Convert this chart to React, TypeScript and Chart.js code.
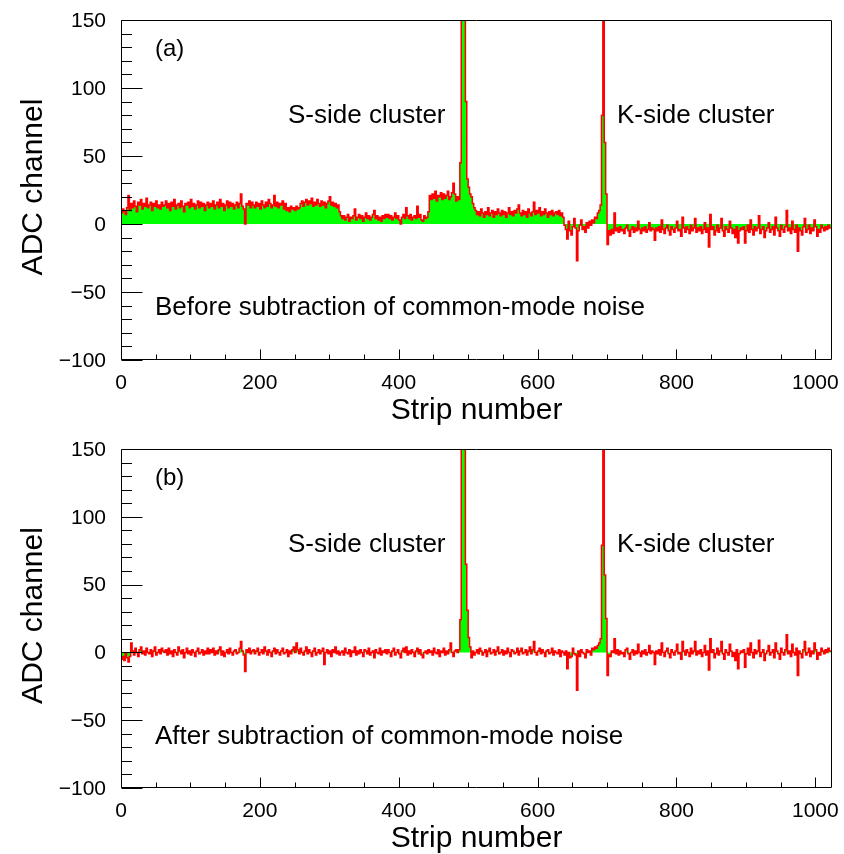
import React, { useEffect, useRef } from 'react';
import { Chart, registerables } from 'chart.js';

Chart.register(...registerables);

// ---- axes ----
const BIN_WIDTH = 2; // strips per bin
const X_MIN = 0;
const X_MAX = 1024;
const Y_MIN = -100;
const Y_MAX = 150;
const X_TICKS = [0, 200, 400, 600, 800, 1000];
const Y_TICKS = [-100, -50, 0, 50, 100, 150];
const X_MINOR_STEP = 50;
const Y_MINOR_STEP = 10;
const X_TITLE = 'Strip number';
const Y_TITLE = 'ADC channel';
const PEAK_LABELS = ['S-side cluster', 'K-side cluster'];

// ---- (a) before common-mode subtraction: ADC value per 2-strip bin ----
const ADC_BEFORE = [
  10, 8, 11, 9, 7, 12, 21, 10, 15, 12, 17, 13, 9, 16, 14, 18, 11, 15, 13, 19, 12, 14, 16, 10, 15, 13, 17, 12, 14, 11, 16, 13,
  14, 17, 12, 15, 10, 16, 13, 18, 11, 14, 15, 12, 17, 13, 9, 15, 14, 16, 12, 18, 13, 15, 11, 14, 17, 12, 16, 13, 15, 10, 14, 16,
  12, 15, 13, 17, 11, 14, 16, 12, 18, 13, 15, 10, 14, 17, 12, 16, 13, 15, 11, 14, 16, 12, 15, 22, 13, 11, 0, 15, 14, 17, 12, 16,
  14, 12, 16, 13, 15, 11, 17, 14, 12, 16, 13, 18, 15, 12, 14, 21, 13, 16, 12, 15, 14, 17, 11, 15, 10, 12, 9, 13, 11, 12, 10, 13,
  11, 12, 15, 17, 13, 16, 18, 14, 17, 15, 19, 13, 16, 14, 18, 15, 13, 17, 14, 16, 12, 15, 17, 20, 14, 16, 13, 15, 12, 14, 9, 6,
  4, 6, 3, 5, 7, 2, 5, 4, 6, 11, 3, 5, 7, 4, 6, 2, 5, 8, 4, 6, 3, 5, 7, 10, 4, 6, 3, 5, 2, 6, 4, 7,
  5, 7, 4, 6, 3, 5, 8, 4, 6, 3, 0, 5, 7, 4, 12, 6, 4, 7, 3, 5, 6, 4, 13, 5, 7, 3, 2, 6, 4, 5, 9, 21,
  18, 22, 19, 24, 17, 21, 20, 23, 18, 22, 19, 21, 24, 18, 20, 23, 30, 22, 17, 20, 18, 45, 250, 400, 300, 90, 33, 27, 22, 20, 15, 12,
  10, 7, 9, 6, 11, 8, 5, 9, 7, 12, 6, 8, 10, 5, 9, 7, 11, 8, 6, 10, 7, 9, 5, 8, 12, 7, 9, 6, 10, 8, 11, 14,
  8, 6, 10, 7, 9, 5, 11, 8, 6, 9, 16, 7, 10, 8, 12, 6, 9, 7, 11, 8, 5, 9, 7, 10, 6, 8, 9, 7, 10, 6, 8, 5,
  -1, -4, -11, 2, -5, -8, -2, 4, -3, -27, -5, -1, 3, -4, -2, -6, 1, -3, 2, -1, 3, 1, 5, 4, 8, 10, 14, 80, 400, 60, 22, -15,
  -5, -8, -4, -7, 8, -5, -3, -6, -2, -5, -4, -7, -3, -1, -5, -9, -4, -2, -6, -3, -5, 2, -4, -7, -3, -5, -2, -6, -4, 1, -5, -3,
  -4, -12, -3, -5, -2, -6, 3, -4, -7, -3, -1, -5, -8, -2, -4, -6, -3, 2, -5, -4, -9, 5, -3, -6, -2, -4, -7, -1, -5, -3, 4, -6,
  -3, -5, -2, -7, -4, 1, -6, -3, -17, 7, -4, -2, -8, -5, -1, -6, -3, 4, -5, -9, -2, -4, -6, 2, -3, -7, -4, -10, -2, -14, -5, -3,
  -4, -2, -14, -5, -1, -6, 3, -4, -8, -2, -5, -3, 6, -7, -4, -2, -10, -5, -3, 1, -6, -4, -2, -8, 5, -3, -5, -9, -1, -4, -6, -2,
  10, -5, -3, -7, 2, -4, -6, -1, -20, -3, -5, -8, -2, 4, -6, -4, -1, -7, -3, -5, 3, -2, -9, -4, -6, -1, -3, -5, -2, -4, -1, -3,
];

// ---- (b) after common-mode subtraction ----
const ADC_AFTER = [
  -2, -5, -3, -6, -1, -4, -7, -3, 7, 1, -2, 3, 0, -3, 2, 4, -1, 1, -2, 3, 0, -1, 2, -3, 1, 4, -2, 0, 2, -1, 3, 1,
  0, 2, -2, 3, -1, 1, -3, 2, 0, -2, 4, 1, -1, 2, -4, 0, 3, -1, 1, -2, 2, 0, -3, 1, 3, -1, 0, 2, -2, 1, -1, 3,
  -1, 2, 0, 3, -2, 1, -1, 2, 4, -2, 1, -3, 0, 2, -1, 3, 0, -2, 1, 2, -1, 0, 3, 8, 1, -2, -14, 2, 0, 3, -1, 1,
  2, -1, 1, 3, -2, 0, 2, -1, 4, 1, -2, 2, 0, -3, 1, 3, -1, 2, 0, -2, 1, 3, -1, 0, 2, -3, 1, -1, 2, 4, 0, 7,
  2, -1, 3, 0, -2, 1, 4, -1, 2, 0, -3, 1, 3, -2, 0, 2, -1, 1, 3, -9, 0, 2, -1, 1, -3, 2, 0, 4, -1, 1, -2, 0,
  1, -2, 3, 0, -1, 2, -3, 1, 0, 4, -2, 1, -1, 2, 0, -3, 2, 1, -1, 3, -2, 0, 1, -4, 2, 0, -1, 3, -2, 1, 0, 2,
  -1, 2, 0, -3, 1, 3, -2, 0, 2, -1, -4, 1, 3, 0, 4, -2, 1, -1, 2, 0, -3, 1, 3, -1, 2, -2, -4, 0, 1, -1, 2, 0,
  1, -2, 3, 0, -1, 2, -3, 1, 0, 3, -2, 1, -1, 2, 7, 0, -3, 1, 2, 0, 2, 24, 250, 400, 300, 65, 31, 11, 4, -4, 1, -2,
  0, 2, -1, 3, 1, -2, 0, 2, -3, 1, 3, -1, 0, 2, -2, 1, 4, -1, 0, 2, -2, 1, -1, 3, 0, -3, 2, 1, -1, 0, 3, -2,
  1, 3, -1, 0, 2, -2, 1, 4, -1, 2, 8, 0, -2, 1, 3, -1, 2, 0, -3, 1, 2, -1, 0, 3, -2, 1, 0, -1, 2, -3, 1, 0,
  -2, 1, -12, 0, -4, -3, 3, -1, -2, -28, 1, -3, 2, 0, -1, -4, 2, 0, 1, -2, 3, 2, 4, 3, 5, 7, 10, 79, 400, 57, 25, -17,
  -2, -3, 1, 0, 10, -1, 2, -2, 1, -1, 0, -3, 2, 3, -1, -5, 0, 2, -2, 1, -1, 6, 0, -3, 1, -1, 2, -2, 0, 5, -1, 1,
  0, -9, 1, -1, 2, -2, 7, 0, -3, 1, 3, -1, -4, 2, 0, -2, 1, 6, -1, 0, -5, 8, 1, -2, 2, 0, -3, 3, -1, 1, 8, -2,
  1, -1, 2, -3, 0, 5, -2, 1, -13, 10, 0, 2, -4, -1, 3, -2, 1, 8, -1, -5, 2, 0, -2, 6, 1, -3, 0, -6, 2, -12, -1, 1,
  0, 2, -11, -1, 3, -2, 7, 0, -4, 2, -1, 1, 9, -3, 0, 2, -6, -1, 1, 5, -2, 0, 2, -4, 7, 1, -1, -5, 3, 0, -2, 2,
  13, -1, 1, -3, 6, 0, -2, 3, -17, 1, -1, -4, 2, 8, -2, 0, 3, -3, 1, -1, 7, 2, -5, 0, -2, 3, 1, -1, 2, 0, 3, 1,
];

const FONT = '"Liberation Sans", Arial, Helvetica, sans-serif';

type PanelProps = {
  values: number[];
  tag: string;
  note: string;
  padTop: number;
  padBottom: number;
};

function fmt(v: number): string {
  return v < 0 ? '\u2212' + String(-v) : String(v);
}

function makePlugin(tag: string, note: string) {
  return {
    id: 'rootFrame',
    afterDraw(chart: any) {
      const { ctx, chartArea: a } = chart;
      const xs = chart.scales.x;
      const ys = chart.scales.y;
      const L = Math.round(a.left) + 0.5;
      const R = Math.round(a.right) - 0.5;
      const T = Math.round(a.top) + 0.5;
      const B = Math.round(a.bottom) - 0.5;
      ctx.save();
      // frame
      ctx.lineWidth = 1;
      ctx.strokeStyle = '#000';
      ctx.beginPath();
      ctx.moveTo(L, T);
      ctx.lineTo(R, T);
      ctx.lineTo(R, B);
      ctx.lineTo(L, B);
      ctx.closePath();
      ctx.stroke();
      // y ticks (inward)
      for (let v = Y_MIN; v <= Y_MAX; v += Y_MINOR_STEP) {
        const py = Math.round(ys.getPixelForValue(v)) + 0.5;
        const len = Y_TICKS.includes(v) ? 21 : 10.5;
        ctx.beginPath();
        ctx.moveTo(L, py);
        ctx.lineTo(L + len, py);
        ctx.stroke();
      }
      // x ticks (inward)
      for (let v = X_MIN; v <= X_MAX; v += X_MINOR_STEP) {
        const px = Math.round(xs.getPixelForValue(v)) + 0.5;
        const len = X_TICKS.includes(v) ? 10 : 5;
        ctx.beginPath();
        ctx.moveTo(px, B);
        ctx.lineTo(px, B - len);
        ctx.stroke();
      }
      // tick labels
      ctx.fillStyle = '#000';
      ctx.font = `21px ${FONT}`;
      ctx.textAlign = 'right';
      ctx.textBaseline = 'middle';
      Y_TICKS.forEach((v) => {
        ctx.fillText(fmt(v), a.left - 15, ys.getPixelForValue(v) + 1);
      });
      ctx.textAlign = 'center';
      ctx.textBaseline = 'alphabetic';
      X_TICKS.forEach((v) => {
        ctx.fillText(fmt(v), xs.getPixelForValue(v), a.bottom + 29);
      });
      // axis titles
      ctx.font = `30px ${FONT}`;
      ctx.textAlign = 'center';
      ctx.fillText(X_TITLE, (a.left + a.right) / 2, a.bottom + 59);
      ctx.save();
      ctx.translate(42, (a.top + a.bottom) / 2 - 3);
      ctx.rotate(-Math.PI / 2);
      ctx.fillText(Y_TITLE, 0, 0);
      ctx.restore();
      // annotations
      ctx.textAlign = 'left';
      ctx.font = `24px ${FONT}`;
      ctx.fillText(tag, a.left + 34, a.top + 36);
      ctx.font = `26px ${FONT}`;
      ctx.fillText(PEAK_LABELS[0], a.left + 167, a.top + 103);
      ctx.fillText(PEAK_LABELS[1], a.left + 496, a.top + 103);
      ctx.fillText(note, a.left + 34, a.top + 295);
      ctx.restore();
    },
  };
}

function Panel({ values, tag, note, padTop, padBottom }: PanelProps) {
  const ref = useRef<HTMLCanvasElement | null>(null);
  useEffect(() => {
    if (!ref.current) return;
    const points = values.map((v, i) => ({ x: i * BIN_WIDTH, y: v }));
    points.push({ x: X_MAX, y: values[values.length - 1] });
    const chart = new Chart(ref.current, {
      type: 'line',
      data: {
        datasets: [
          {
            data: points,
            stepped: 'after',
            fill: 'origin',
            backgroundColor: '#00ff00',
            borderColor: '#ff0000',
            borderWidth: 1.5,
            pointRadius: 0,
            tension: 0,
            clip: 0,
          } as any,
        ],
      },
      options: {
        responsive: false,
        animation: false,
        devicePixelRatio: 1,
        events: [],
        layout: { padding: { left: 121, right: 12, top: padTop, bottom: padBottom } },
        plugins: { legend: { display: false }, tooltip: { enabled: false } },
        scales: {
          x: { type: 'linear', min: X_MIN, max: X_MAX, display: false },
          y: { type: 'linear', min: Y_MIN, max: Y_MAX, display: false },
        },
      },
      plugins: [makePlugin(tag, note)],
    });
    return () => chart.destroy();
  }, [values, tag, note, padTop, padBottom]);
  return <canvas ref={ref} width={844} height={427} style={{ display: 'block', width: 844, height: 427 }} />;
}

export default function App() {
  return (
    <div style={{ position: 'fixed', left: 0, top: 0, width: 844, height: 854, background: '#fff' }}>
      <Panel values={ADC_BEFORE} tag="(a)" note="Before subtraction of common-mode noise" padTop={20} padBottom={67} />
      <Panel values={ADC_AFTER} tag="(b)" note="After subtraction of common-mode noise" padTop={22} padBottom={66} />
    </div>
  );
}
